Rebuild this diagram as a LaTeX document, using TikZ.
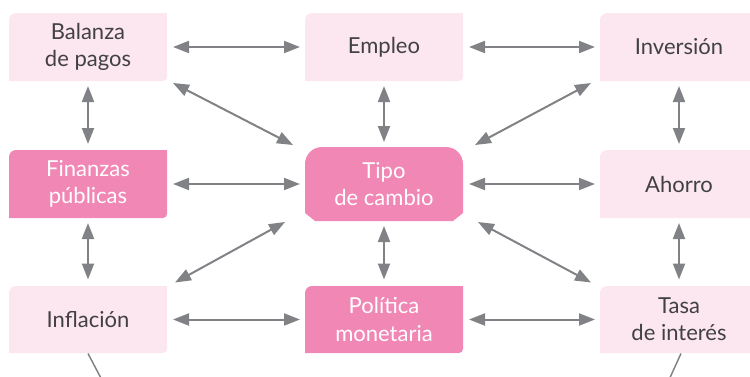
\documentclass[tikz,border=0pt]{standalone}
\usepackage{fontspec}
\setmainfont{Lato}
\usetikzlibrary{arrows.meta,calc}
\definecolor{lp}{HTML}{FCE7F0}
\definecolor{dp}{HTML}{F187B4}
\definecolor{ag}{HTML}{808285}
\definecolor{tx}{HTML}{414042}
\newcommand\stdbox[5]{\fill[#1] (#2,#3) -- (#2,#5-7) arc[start angle=180,end angle=90,radius=7] -- (#4,#5) -- (#4,#3+4) arc[start angle=0,end angle=-90,radius=4] -- cycle;}
\begin{document}
\begin{tikzpicture}[x=0.75pt,y=0.75pt,
  lbl/.style={align=center, font=\fontsize{16.5}{20.5}\selectfont, text=tx, inner sep=0pt, outer sep=0pt, minimum width=118.5pt, minimum height=51pt},
  dlbl/.style={lbl, text=white},
  arr/.style={draw=ag, line width=1.5pt, {Triangle[length=12pt,width=9pt]}-{Triangle[length=12pt,width=9pt]}},
  tail/.style={draw=ag, line width=1.1pt}]
\useasboundingbox (0,0) rectangle (750,376);
\clip (0,0) rectangle (750,376);
% boxes
\stdbox{lp}{9}{295}{167}{363}
\stdbox{lp}{305}{295}{463}{363}
\stdbox{lp}{600}{295}{758}{363}
\stdbox{dp}{9}{158}{167}{226}
\stdbox{lp}{600}{158}{758}{226}
\stdbox{lp}{9}{23}{167}{90}
\stdbox{dp}{305}{23}{463}{90}
\stdbox{lp}{600}{23}{758}{90}
\fill[dp] (315,155) -- (305,163) -- (305,212) arc[start angle=180,end angle=90,radius=17] -- (446,229) arc[start angle=90,end angle=0,radius=17] -- (463,163) -- (453,155) -- cycle;
% labels
\node[lbl] (bal) at (88,329) {Balanza\\de pagos};
\node[lbl] (emp) at (384,329) {Empleo};
\node[lbl] (inv) at (679,329) {Inversión};
\node[dlbl] (fin) at (88,192) {Finanzas\\públicas};
\node[dlbl, minimum height=55.5pt] (tipo) at (384,192) {Tipo\\de cambio};
\node[lbl] (aho) at (679,192) {Ahorro};
\node[lbl] (infl) at (88,56.5) {Inflación};
\node[dlbl] (pol) at (384,56.5) {Política\\monetaria};
\node[lbl] (tasa) at (679,56.5) {Tasa\\de interés};
% horizontal
\draw[arr] ($(bal.east)+(6,0)$) -- ($(emp.west)+(-5,0)$);
\draw[arr] ($(emp.east)+(6,0)$) -- ($(inv.west)+(-5,0)$);
\draw[arr] ($(fin.east)+(6,0)$) -- ($(tipo.west)+(-5,0)$);
\draw[arr] ($(tipo.east)+(6,0)$) -- ($(aho.west)+(-5,0)$);
\draw[arr] ($(infl.east)+(6,0)$) -- ($(pol.west)+(-5,0)$);
\draw[arr] ($(pol.east)+(6,0)$) -- ($(tasa.west)+(-5,0)$);
% vertical
\draw[arr] ($(bal.south)+(0,-5)$) -- ($(fin.north)+(0,6)$);
\draw[arr] ($(fin.south)+(0,-5)$) -- ($(infl.north)+(0,6)$);
\draw[arr] ($(emp.south)+(0,-5)$) -- ($(tipo.north)+(0,5)$);
\draw[arr] ($(tipo.south)+(0,-5)$) -- ($(pol.north)+(0,6)$);
\draw[arr] ($(inv.south)+(0,-5)$) -- ($(aho.north)+(0,6)$);
\draw[arr] ($(aho.south)+(0,-5)$) -- ($(tasa.north)+(0,6)$);
% diagonals
\draw[arr] ($(bal.south east)+(6,-2)$) -- ($(tipo.north west)+(-12,2)$);
\draw[arr] ($(inv.south west)+(-9,-2)$) -- ($(tipo.north east)+(12,2)$);
\draw[arr] ($(infl.north east)+(8,3)$) -- ($(tipo.south west)+(-20,-1)$);
\draw[arr] ($(tasa.north west)+(-9,3)$) -- ($(tipo.south east)+(15,-1)$);
% tails
\coordinate (t1) at (103,-6);
\coordinate (t2) at (668,-6);
\draw[tail] (infl.south) -- (t1);
\draw[tail] ($(tasa.south)+(2,0)$) -- (t2);
\end{tikzpicture}
\end{document}
